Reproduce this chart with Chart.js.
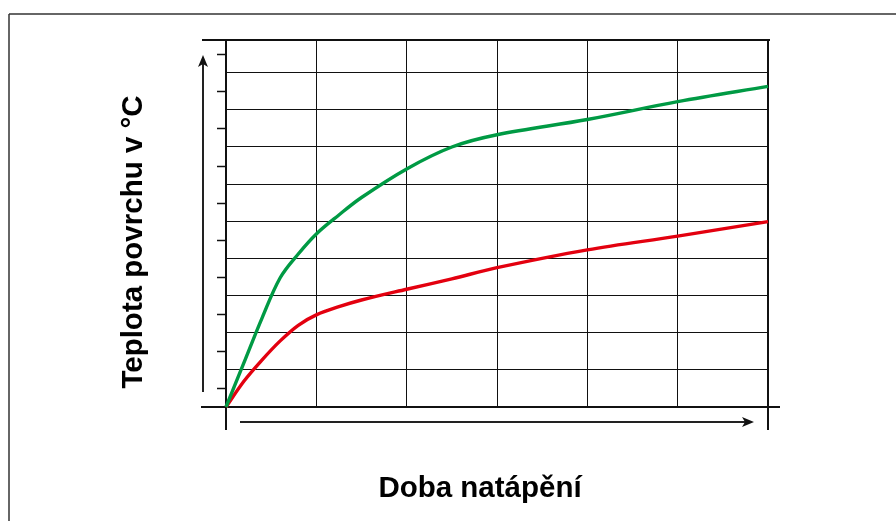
<!DOCTYPE html>
<html>
<head>
<meta charset="utf-8">
<script src="https://cdn.jsdelivr.net/npm/chart.js@4"></script>
<style>
  html, body { margin: 0; padding: 0; background: #fff; }
  canvas { display: block; }
</style>
</head>
<body>
<canvas id="graf" width="896" height="521"></canvas>
<script>
// doba natápění (relativní jednotky) - společné pro obě křivky
const doba = [0, 0.2, 0.4, 0.6, 0.8, 1, 1.25, 1.5, 2, 2.5, 3, 4, 5, 6];
// teplota povrchu (relativní jednotky)
const teplotaZelena = [0, 1.2, 2.4, 3.48, 4.12, 4.66, 5.17, 5.64, 6.41, 7.0, 7.33, 7.74, 8.22, 8.63];
const teplotaCervena = [0, 0.7, 1.27, 1.78, 2.2, 2.48, 2.7, 2.88, 3.17, 3.45, 3.75, 4.23, 4.6, 4.99];

// mřížka
const mrizkaX = [0, 1, 2, 3, 4, 5, 6];
const mrizkaY = [0, 1, 2, 3, 4, 5, 6, 7, 8, 9];
const maleZnacky = [0.5, 1.5, 2.5, 3.5, 4.5, 5.5, 6.5, 7.5, 8.5, 9.5];
const xMax = 6;
const yMax = 9.88;

const popisY = "Teplota povrchu v °C";
const popisX = "Doba natápění";

function body(hodnoty) {
  return doba.map((d, i) => ({ x: d, y: hodnoty[i] }));
}

function usecka(ctx, x1, y1, x2, y2, w) {
  ctx.lineWidth = w;
  ctx.beginPath();
  ctx.moveTo(x1, y1);
  ctx.lineTo(x2, y2);
  ctx.stroke();
}

// osy, šipky, rámeček a popisky
const ramecek = {
  id: "ramecek",
  beforeDatasetsDraw(chart) {
    const { ctx, scales: { x, y } } = chart;
    const x0 = x.getPixelForValue(0);
    const x1 = x.getPixelForValue(xMax);
    const y0 = y.getPixelForValue(0);
    const yTop = y.getPixelForValue(yMax);
    ctx.save();

    // vnější rámeček
    ctx.strokeStyle = "#333";
    usecka(ctx, 9, 14, 896, 14, 1.5);
    usecka(ctx, 9, 14, 9, 521, 1.5);

    // osy
    ctx.strokeStyle = "#111";
    usecka(ctx, x0 - 24, yTop, x1 + 2, yTop, 2);
    usecka(ctx, x0, yTop, x0, y0 + 23, 2);
    usecka(ctx, x1, yTop, x1, y0 + 23, 2);
    usecka(ctx, x0 - 25, y0, x1 + 12, y0, 2);

    // malé značky na svislé ose
    maleZnacky.forEach(v => {
      const py = Math.round(y.getPixelForValue(v)) + 0.5;
      usecka(ctx, x0 - 9, py, x0, py, 1.5);
    });

    // šipky
    ctx.strokeStyle = "#222";
    ctx.fillStyle = "#111";
    const ax = x0 - 23;
    usecka(ctx, ax, y0 - 15, ax, yTop + 20, 2);
    ctx.beginPath();
    ctx.moveTo(ax, yTop + 15);
    ctx.lineTo(ax + 5, yTop + 27);
    ctx.lineTo(ax, yTop + 24);
    ctx.lineTo(ax - 5, yTop + 27);
    ctx.closePath();
    ctx.fill();

    const ay = y0 + 15;
    usecka(ctx, x0 + 14, ay, x1 - 20, ay, 2);
    ctx.beginPath();
    ctx.moveTo(x1 - 14, ay);
    ctx.lineTo(x1 - 26, ay - 5);
    ctx.lineTo(x1 - 23, ay);
    ctx.lineTo(x1 - 26, ay + 5);
    ctx.closePath();
    ctx.fill();

    // popisky os
    ctx.fillStyle = "#000";
    ctx.font = 'bold 29.5px "Liberation Sans", Arial, sans-serif';
    ctx.textAlign = "center";
    ctx.textBaseline = "alphabetic";
    ctx.fillText(popisX, 480, 497);
    ctx.translate(142, 242);
    ctx.rotate(-Math.PI / 2);
    ctx.fillText(popisY, 0, 0);
    ctx.restore();
  }
};

new Chart(document.getElementById("graf"), {
  type: "line",
  data: {
    datasets: [
      {
        label: "zelená",
        data: body(teplotaZelena),
        borderColor: "#009a44",
        borderWidth: 3.4,
        pointRadius: 0,
        tension: 0.35,
        clip: 4
      },
      {
        label: "červená",
        data: body(teplotaCervena),
        borderColor: "#e3000f",
        borderWidth: 3.4,
        pointRadius: 0,
        tension: 0.35,
        clip: 4
      }
    ]
  },
  options: {
    responsive: false,
    animation: false,
    layout: { padding: { left: 226, right: 128, top: 40, bottom: 114 } },
    plugins: {
      legend: { display: false },
      tooltip: { enabled: false }
    },
    scales: {
      x: {
        type: "linear",
        min: 0,
        max: xMax,
        afterBuildTicks: axis => { axis.ticks = mrizkaX.map(v => ({ value: v })); },
        ticks: { display: false },
        grid: { color: "#111", lineWidth: 1, drawTicks: false },
        border: { display: false }
      },
      y: {
        type: "linear",
        min: 0,
        max: yMax,
        afterBuildTicks: axis => { axis.ticks = mrizkaY.map(v => ({ value: v })); },
        ticks: { display: false },
        grid: { color: "#111", lineWidth: 1, drawTicks: false },
        border: { display: false }
      }
    }
  },
  plugins: [ramecek]
});
</script>
</body>
</html>
